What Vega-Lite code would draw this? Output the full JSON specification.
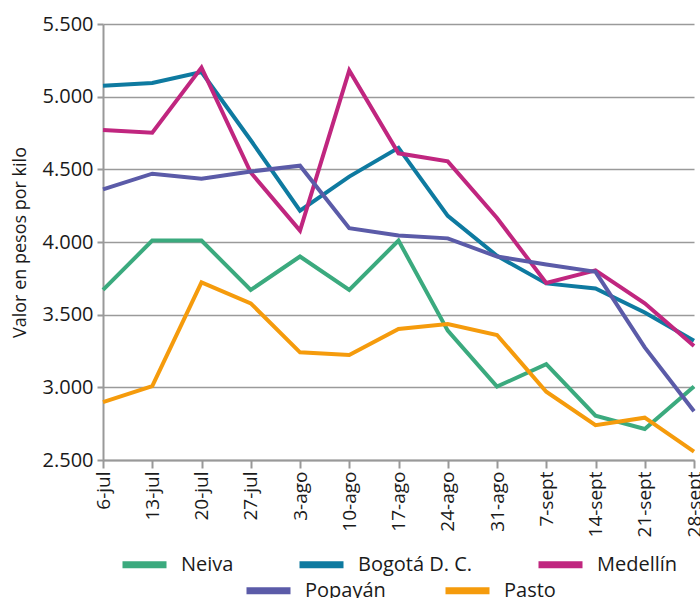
{
  "$schema": "https://vega.github.io/schema/vega-lite/v6.json",
  "autosize": {"type": "none"},
  "width": 597,
  "height": 436,
  "padding": {"left": 103, "top": 24, "right": 0, "bottom": 138},
  "background": "white",
  "config": {
    "font": "Open Sans",
    "view": {"stroke": null},
    "axis": {"labelColor": "#1a1a1a", "titleColor": "#1a1a1a", "labelFont": "Open Sans", "titleFont": "Open Sans"},
    "legend": {"labelFont": "Open Sans"}
  },
  "data": {
    "values": [
      {"fecha": "6-jul", "ciudad": "Neiva", "valor": 3670},
      {"fecha": "13-jul", "ciudad": "Neiva", "valor": 4010},
      {"fecha": "20-jul", "ciudad": "Neiva", "valor": 4010},
      {"fecha": "27-jul", "ciudad": "Neiva", "valor": 3670},
      {"fecha": "3-ago", "ciudad": "Neiva", "valor": 3900},
      {"fecha": "10-ago", "ciudad": "Neiva", "valor": 3670},
      {"fecha": "17-ago", "ciudad": "Neiva", "valor": 4010},
      {"fecha": "24-ago", "ciudad": "Neiva", "valor": 3390},
      {"fecha": "31-ago", "ciudad": "Neiva", "valor": 3005},
      {"fecha": "7-sept", "ciudad": "Neiva", "valor": 3160},
      {"fecha": "14-sept", "ciudad": "Neiva", "valor": 2805},
      {"fecha": "21-sept", "ciudad": "Neiva", "valor": 2713},
      {"fecha": "28-sept", "ciudad": "Neiva", "valor": 3005},
      {"fecha": "6-jul", "ciudad": "Bogotá D. C.", "valor": 5075},
      {"fecha": "13-jul", "ciudad": "Bogotá D. C.", "valor": 5094},
      {"fecha": "20-jul", "ciudad": "Bogotá D. C.", "valor": 5170},
      {"fecha": "27-jul", "ciudad": "Bogotá D. C.", "valor": 4700},
      {"fecha": "3-ago", "ciudad": "Bogotá D. C.", "valor": 4215},
      {"fecha": "10-ago", "ciudad": "Bogotá D. C.", "valor": 4450},
      {"fecha": "17-ago", "ciudad": "Bogotá D. C.", "valor": 4648},
      {"fecha": "24-ago", "ciudad": "Bogotá D. C.", "valor": 4180},
      {"fecha": "31-ago", "ciudad": "Bogotá D. C.", "valor": 3905},
      {"fecha": "7-sept", "ciudad": "Bogotá D. C.", "valor": 3715},
      {"fecha": "14-sept", "ciudad": "Bogotá D. C.", "valor": 3680},
      {"fecha": "21-sept", "ciudad": "Bogotá D. C.", "valor": 3515},
      {"fecha": "28-sept", "ciudad": "Bogotá D. C.", "valor": 3320},
      {"fecha": "6-jul", "ciudad": "Medellín", "valor": 4770},
      {"fecha": "13-jul", "ciudad": "Medellín", "valor": 4752},
      {"fecha": "20-jul", "ciudad": "Medellín", "valor": 5200},
      {"fecha": "27-jul", "ciudad": "Medellín", "valor": 4478},
      {"fecha": "3-ago", "ciudad": "Medellín", "valor": 4078},
      {"fecha": "10-ago", "ciudad": "Medellín", "valor": 5180},
      {"fecha": "17-ago", "ciudad": "Medellín", "valor": 4610},
      {"fecha": "24-ago", "ciudad": "Medellín", "valor": 4555},
      {"fecha": "31-ago", "ciudad": "Medellín", "valor": 4165},
      {"fecha": "7-sept", "ciudad": "Medellín", "valor": 3718},
      {"fecha": "14-sept", "ciudad": "Medellín", "valor": 3805},
      {"fecha": "21-sept", "ciudad": "Medellín", "valor": 3578},
      {"fecha": "28-sept", "ciudad": "Medellín", "valor": 3285},
      {"fecha": "6-jul", "ciudad": "Popayán", "valor": 4362},
      {"fecha": "13-jul", "ciudad": "Popayán", "valor": 4470},
      {"fecha": "20-jul", "ciudad": "Popayán", "valor": 4435},
      {"fecha": "27-jul", "ciudad": "Popayán", "valor": 4485},
      {"fecha": "3-ago", "ciudad": "Popayán", "valor": 4525},
      {"fecha": "10-ago", "ciudad": "Popayán", "valor": 4095},
      {"fecha": "17-ago", "ciudad": "Popayán", "valor": 4045},
      {"fecha": "24-ago", "ciudad": "Popayán", "valor": 4025},
      {"fecha": "31-ago", "ciudad": "Popayán", "valor": 3900},
      {"fecha": "7-sept", "ciudad": "Popayán", "valor": 3845},
      {"fecha": "14-sept", "ciudad": "Popayán", "valor": 3795},
      {"fecha": "21-sept", "ciudad": "Popayán", "valor": 3275},
      {"fecha": "28-sept", "ciudad": "Popayán", "valor": 2835},
      {"fecha": "6-jul", "ciudad": "Pasto", "valor": 2898},
      {"fecha": "13-jul", "ciudad": "Pasto", "valor": 3008},
      {"fecha": "20-jul", "ciudad": "Pasto", "valor": 3722},
      {"fecha": "27-jul", "ciudad": "Pasto", "valor": 3578},
      {"fecha": "3-ago", "ciudad": "Pasto", "valor": 3241},
      {"fecha": "10-ago", "ciudad": "Pasto", "valor": 3222},
      {"fecha": "17-ago", "ciudad": "Pasto", "valor": 3401},
      {"fecha": "24-ago", "ciudad": "Pasto", "valor": 3436},
      {"fecha": "31-ago", "ciudad": "Pasto", "valor": 3360},
      {"fecha": "7-sept", "ciudad": "Pasto", "valor": 2970},
      {"fecha": "14-sept", "ciudad": "Pasto", "valor": 2739},
      {"fecha": "21-sept", "ciudad": "Pasto", "valor": 2791},
      {"fecha": "28-sept", "ciudad": "Pasto", "valor": 2557}
    ]
  },
  "encoding": {
    "x": {
      "field": "fecha",
      "type": "ordinal",
      "scale": {
        "type": "point",
        "domain": ["6-jul", "13-jul", "20-jul", "27-jul", "3-ago", "10-ago", "17-ago", "24-ago", "31-ago", "7-sept", "14-sept", "21-sept", "28-sept"],
        "range": [0, 591],
        "padding": 0
      },
      "axis": {
        "title": null,
        "labelAngle": 270,
        "labelAlign": "right",
        "labelBaseline": "middle",
        "labelFontSize": 19,
        "labelPadding": 3,
        "tickSize": 8,
        "tickColor": "#999999",
        "tickWidth": 2,
        "domainColor": "#999999",
        "domainWidth": 2,
        "grid": false,
        "labelOverlap": false
      }
    },
    "y": {
      "field": "valor",
      "type": "quantitative",
      "scale": {"domain": [2500, 5500], "nice": false, "zero": false},
      "axis": {
        "title": "Valor en pesos por kilo",
        "titleFontSize": 18,
        "titleFontWeight": "normal",
        "titleX": -83,
        "titleBaseline": "middle",
        "values": [2500, 3000, 3500, 4000, 4500, 5000, 5500],
        "labelExpr": "replace(format(datum.value, ','), ',', '.')",
        "labelFontSize": 20,
        "labelPadding": 4,
        "tickSize": 6,
        "tickColor": "#999999",
        "tickWidth": 2,
        "domainColor": "#999999",
        "domainWidth": 2,
        "grid": true,
        "gridColor": "#9a9a9a",
        "gridWidth": 1.6
      }
    }
  },
  "layer": [
    {
      "transform": [{"filter": "datum.ciudad === 'Neiva' || datum.ciudad === 'Bogotá D. C.' || datum.ciudad === 'Medellín'"}],
      "mark": {"type": "line", "strokeWidth": 4, "strokeJoin": "miter", "strokeCap": "butt"},
      "encoding": {
        "color": {
          "field": "ciudad",
          "type": "nominal",
          "scale": {"domain": ["Neiva", "Bogotá D. C.", "Medellín"], "range": ["#3BAA7E", "#0E7AA0", "#C0267F"]},
          "legend": {
            "title": null,
            "orient": "none",
            "legendX": 16,
            "legendY": 515,
            "direction": "horizontal",
            "symbolType": "stroke",
            "symbolSize": 1936,
            "symbolStrokeWidth": 7,
            "labelFontSize": 20,
            "labelColor": "#1a1a1a",
            "labelOffset": 11,
            "columnPadding": 51,
            "padding": 0
          }
        }
      }
    },
    {
      "transform": [{"filter": "datum.ciudad === 'Popayán' || datum.ciudad === 'Pasto'"}],
      "mark": {"type": "line", "strokeWidth": 4, "strokeJoin": "miter", "strokeCap": "butt"},
      "encoding": {
        "stroke": {
          "field": "ciudad",
          "type": "nominal",
          "scale": {"domain": ["Popayán", "Pasto"], "range": ["#5B5BA8", "#F59B0C"]},
          "legend": {
            "title": null,
            "orient": "none",
            "legendX": 140,
            "legendY": 541,
            "direction": "horizontal",
            "symbolType": "stroke",
            "symbolSize": 1936,
            "symbolStrokeWidth": 7,
            "labelFontSize": 20,
            "labelColor": "#1a1a1a",
            "labelOffset": 11,
            "columnPadding": 45,
            "padding": 0
          }
        }
      }
    }
  ]
}
